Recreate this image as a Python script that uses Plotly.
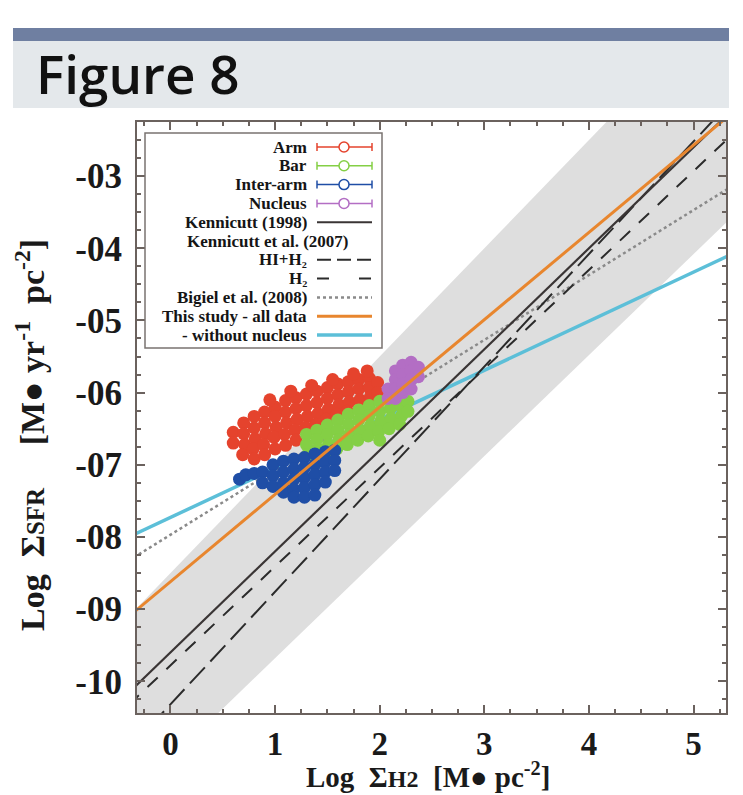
import plotly.graph_objects as go

W, H = 743, 795
L, R, T, B = 137, 726, 122, 713  # plot area in px

# ---------------- data ----------------
x_range = [-0.32, 5.31]
y_range = [-10.44, -2.25]
x_tickvals = [0, 1, 2, 3, 4, 5]
x_ticktext = ["0", "1", "2", "3", "4", "5"]
y_tickvals = [-3, -4, -5, -6, -7, -8, -9, -10]
y_ticktext = ["-03", "-04", "-05", "-06", "-07", "-08", "-09", "-10"]

# relations: (intercept at log ΣH2 = 0, slope)
line_x = [-0.4, 5.4]
kennicutt98 = (-9.6, 1.4)
kennicutt07_hi_h2 = (-10.32, 1.56)
kennicutt07_h2 = (-9.78, 1.37)
bigiel08 = (-7.97, 0.90)
this_all = (-8.62, 1.21)
this_no_nucleus = (-7.73, 0.68)
band_upper = (-8.5, 1.5)
band_lower = (-11.08, 1.4)

arm_x = [0.6, 0.6, 0.7, 0.7, 0.71, 0.69, 0.8, 0.8, 0.81, 0.79, 0.8,
         0.9, 0.9, 0.91, 0.89, 0.9, 1.0, 1.0, 1.01, 0.99, 1.0,
         1.1, 1.1, 1.11, 1.09, 1.1, 1.2, 1.2, 1.21, 1.19, 1.2,
         1.3, 1.3, 1.31, 1.29, 1.4, 1.4, 1.41, 1.39, 1.5, 1.5, 1.51, 1.49,
         1.6, 1.6, 1.61, 1.59, 1.7, 1.7, 1.71, 1.69, 1.8, 1.8, 1.81,
         1.9, 1.9, 1.91, 1.98, 1.98,
         0.95, 1.15, 1.35, 1.55, 1.75, 1.88]
arm_y = [-6.55, -6.7, -6.42, -6.57, -6.72, -6.86, -6.33, -6.49, -6.64, -6.78, -6.92,
         -6.27, -6.42, -6.57, -6.72, -6.86, -6.2, -6.33, -6.48, -6.62, -6.78,
         -6.11, -6.27, -6.42, -6.58, -6.73, -6.07, -6.22, -6.37, -6.52, -6.66,
         -6.02, -6.18, -6.33, -6.48, -5.98, -6.14, -6.29, -6.44, -5.93, -6.08, -6.23, -6.37,
         -5.88, -6.03, -6.17, -6.3, -5.85, -5.99, -6.13, -6.26, -5.82, -5.95, -6.1,
         -5.8, -5.93, -6.06, -5.86, -6.0,
         -6.1, -5.98, -5.9, -5.82, -5.74, -5.7]

bar_x = [1.3, 1.3, 1.31, 1.4, 1.4, 1.41, 1.39, 1.5, 1.5, 1.51, 1.49,
         1.6, 1.6, 1.61, 1.59, 1.7, 1.7, 1.71, 1.69, 1.8, 1.8, 1.81, 1.79,
         1.9, 1.9, 1.91, 1.89, 2.0, 2.0, 2.01, 1.99, 2.0,
         2.1, 2.1, 2.11, 2.09, 2.2, 2.2, 2.21, 2.19, 2.27, 2.27]
bar_y = [-6.58, -6.72, -6.86, -6.52, -6.65, -6.78, -6.9, -6.45, -6.58, -6.72, -6.85,
         -6.38, -6.52, -6.65, -6.78, -6.3, -6.44, -6.58, -6.72, -6.24, -6.38, -6.52, -6.66,
         -6.18, -6.32, -6.46, -6.6, -6.12, -6.26, -6.4, -6.54, -6.66,
         -6.08, -6.22, -6.36, -6.5, -6.05, -6.18, -6.32, -6.44, -6.12, -6.26]

interarm_x = [0.66, 0.72, 0.8, 0.88, 0.88, 0.98, 0.98, 0.98, 1.08, 1.08, 1.08, 1.08,
              1.18, 1.18, 1.18, 1.18, 1.18, 1.28, 1.28, 1.28, 1.28, 1.28,
              1.38, 1.38, 1.38, 1.38, 1.38, 1.48, 1.48, 1.48, 1.48,
              1.57, 1.57, 1.57]
interarm_y = [-7.2, -7.14, -7.12, -7.1, -7.25, -7.0, -7.15, -7.3, -6.95, -7.1, -7.25, -7.38,
              -6.92, -7.06, -7.2, -7.34, -7.45, -6.9, -7.04, -7.18, -7.32, -7.45,
              -6.85, -7.0, -7.14, -7.28, -7.42, -6.82, -6.96, -7.1, -7.24,
              -6.8, -6.94, -7.08]

nucleus_x = [2.08, 2.08, 2.15, 2.15, 2.15, 2.15, 2.22, 2.22, 2.22, 2.22,
             2.3, 2.3, 2.3, 2.3, 2.37, 2.37]
nucleus_y = [-5.95, -6.08, -5.7, -5.82, -5.95, -6.08, -5.62, -5.75, -5.88, -6.0,
             -5.58, -5.7, -5.82, -5.95, -5.65, -5.78]

legend_labels = ["Arm", "Bar", "Inter-arm", "Nucleus", "Kennicutt (1998)",
                 "Kennicutt et al. (2007)", "HI+H₂", "H₂",
                 "Bigiel et al. (2008)", "This study - all data", "- without nucleus"]

# ---------------- styles ----------------
C_ARM = "#e5432d"
C_BAR = "#84cf45"
C_INTER = "#1f4ea6"
C_NUC = "#b36ec4"
C_K98 = "#3a3535"
C_DASH = "#2b2b2b"
C_BIGIEL = "#8a8a8a"
C_ORANGE = "#e8862e"
C_CYAN = "#5cbfd8"
C_BAND = "#dedede"
C_FRAME = "#6b625e"
SERIF = "Liberation Serif"


def rel_y(rel):
    a, b = rel
    return [a + b * x for x in line_x]


def px(xp):
    return (xp - L) / (R - L)


def py(yp):
    return (B - yp) / (B - T)


fig = go.Figure()

# gray band
fig.add_trace(go.Scatter(
    x=line_x + line_x[::-1],
    y=rel_y(band_upper) + rel_y(band_lower)[::-1],
    fill="toself", fillcolor=C_BAND, line=dict(width=0), mode="lines",
    hoverinfo="skip", showlegend=False))

# lines drawn below the points
fig.add_trace(go.Scatter(x=line_x, y=rel_y(this_no_nucleus), mode="lines",
                         line=dict(color=C_CYAN, width=3.5), showlegend=False))
fig.add_trace(go.Scatter(x=line_x, y=rel_y(bigiel08), mode="lines",
                         line=dict(color=C_BIGIEL, width=2.5, dash="dot"), showlegend=False))
fig.add_trace(go.Scatter(x=line_x, y=rel_y(kennicutt07_h2), mode="lines",
                         line=dict(color=C_DASH, width=2, dash="14px,12px"), showlegend=False))
fig.add_trace(go.Scatter(x=line_x, y=rel_y(kennicutt07_hi_h2), mode="lines",
                         line=dict(color=C_DASH, width=2, dash="22px,8px"), showlegend=False))

# data points
for xs, ys, c in [(arm_x, arm_y, C_ARM), (bar_x, bar_y, C_BAR),
                  (interarm_x, interarm_y, C_INTER), (nucleus_x, nucleus_y, C_NUC)]:
    fig.add_trace(go.Scatter(x=xs, y=ys, mode="markers",
                             marker=dict(color=c, size=13, line=dict(width=0)),
                             showlegend=False))

fig.add_trace(go.Scatter(x=line_x, y=rel_y(kennicutt98), mode="lines",
                         line=dict(color=C_K98, width=2.2), showlegend=False))
fig.add_trace(go.Scatter(x=line_x, y=rel_y(this_all), mode="lines",
                         line=dict(color=C_ORANGE, width=3), showlegend=False))

shapes = []
annotations = []

# header
shapes.append(dict(type="rect", xref="paper", yref="paper",
                   x0=px(13), x1=px(729), y0=py(108), y1=py(40),
                   fillcolor="#e4e8eb", line=dict(width=0), layer="below"))
shapes.append(dict(type="rect", xref="paper", yref="paper",
                   x0=px(13), x1=px(729), y0=py(41), y1=py(28),
                   fillcolor="#6f7fa1", line=dict(width=0), layer="below"))
annotations.append(dict(text="Figure 8", xref="paper", yref="paper",
                        x=px(34), y=py(74), xanchor="left", yanchor="middle",
                        showarrow=False,
                        font=dict(family="Open Sans", size=53, color="#111111", weight=600)))

# custom legend (text left, sample right)
shapes.append(dict(type="rect", xref="paper", yref="paper",
                   x0=px(145), x1=px(382), y0=py(348), y1=py(133),
                   fillcolor="white", line=dict(color="#7a7370", width=1.5)))
sx0, sx1, sxm = 317, 372, 344
row_y = [147 + 18.8 * i for i in range(len(legend_labels))]
for i, lab in enumerate(legend_labels):
    yy = row_y[i]
    xr = 350 if i == 5 else 309
    annotations.append(dict(text=lab, xref="paper", yref="paper", x=px(xr), y=py(yy),
                            xanchor="right", yanchor="middle", showarrow=False,
                            font=dict(family=SERIF, size=17, color="#151515", weight="bold")))

marker_cols = [C_ARM, C_BAR, C_INTER, C_NUC]
for i, c in enumerate(marker_cols):
    yy = row_y[i]
    shapes.append(dict(type="line", xref="paper", yref="paper", x0=px(sx0), x1=px(sx1),
                       y0=py(yy), y1=py(yy), line=dict(color=c, width=1.5)))
    for xe in (sx0, sx1):
        shapes.append(dict(type="line", xref="paper", yref="paper", x0=px(xe), x1=px(xe),
                           y0=py(yy - 4), y1=py(yy + 4), line=dict(color=c, width=1.5)))
    shapes.append(dict(type="circle", xref="paper", yref="paper",
                       x0=px(sxm - 5), x1=px(sxm + 5), y0=py(yy + 5), y1=py(yy - 5),
                       fillcolor="white", line=dict(color=c, width=1.5)))

line_samples = {4: (C_K98, 2, "solid"), 6: (C_DASH, 2, "14px,6px"),
                7: (C_DASH, 2, "12px,30px"), 8: (C_BIGIEL, 2.5, "dot"),
                9: (C_ORANGE, 3, "solid"), 10: (C_CYAN, 3.5, "solid")}
for i, (c, w, d) in line_samples.items():
    yy = row_y[i]
    shapes.append(dict(type="line", xref="paper", yref="paper", x0=px(sx0), x1=px(sx1),
                       y0=py(yy), y1=py(yy), line=dict(color=c, width=w, dash=d)))

# axis titles
annotations.append(dict(
    text="Log  Σ<span style='font-size:24px'>H2</span>  [M● pc<sup>-2</sup>]",
    xref="paper", yref="paper", x=px(428), y=py(775), xanchor="center", yanchor="middle",
    showarrow=False, font=dict(family=SERIF, size=29, color="#1a1a1a", weight="bold")))
annotations.append(dict(
    text="Log  Σ<span style='font-size:25px'>SFR</span>     [M● yr<sup>-1</sup>  pc<sup>-2</sup>]",
    xref="paper", yref="paper", x=px(30), y=py(435), xanchor="center", yanchor="middle",
    textangle=-90, showarrow=False,
    font=dict(family=SERIF, size=34, color="#1a1a1a", weight="bold")))

axis_common = dict(showgrid=False, zeroline=False, mirror="ticks", showline=True,
                   linecolor=C_FRAME, linewidth=2, ticks="inside", ticklen=8,
                   tickwidth=1.5, tickcolor=C_FRAME)

fig.update_xaxes(range=x_range, tickvals=x_tickvals, ticktext=x_ticktext,
                 ticklabelstandoff=0,
                 tickfont=dict(family=SERIF, size=33, color="#1a1a1a", weight="bold"),
                 minor=dict(ticks="inside", ticklen=4, tickcolor=C_FRAME, dtick=0.25),
                 **axis_common)
fig.update_yaxes(range=y_range, tickvals=y_tickvals, ticktext=y_ticktext,
                 ticklabelstandoff=6,
                 tickfont=dict(family=SERIF, size=35, color="#1a1a1a", weight="bold"),
                 minor=dict(ticks="inside", ticklen=4, tickcolor=C_FRAME, dtick=0.25),
                 **axis_common)

fig.update_layout(width=W, height=H, margin=dict(l=L, r=W - R, t=T, b=H - B),
                  paper_bgcolor="white", plot_bgcolor="white",
                  shapes=shapes, annotations=annotations, showlegend=False)

fig.write_html("out.html")
